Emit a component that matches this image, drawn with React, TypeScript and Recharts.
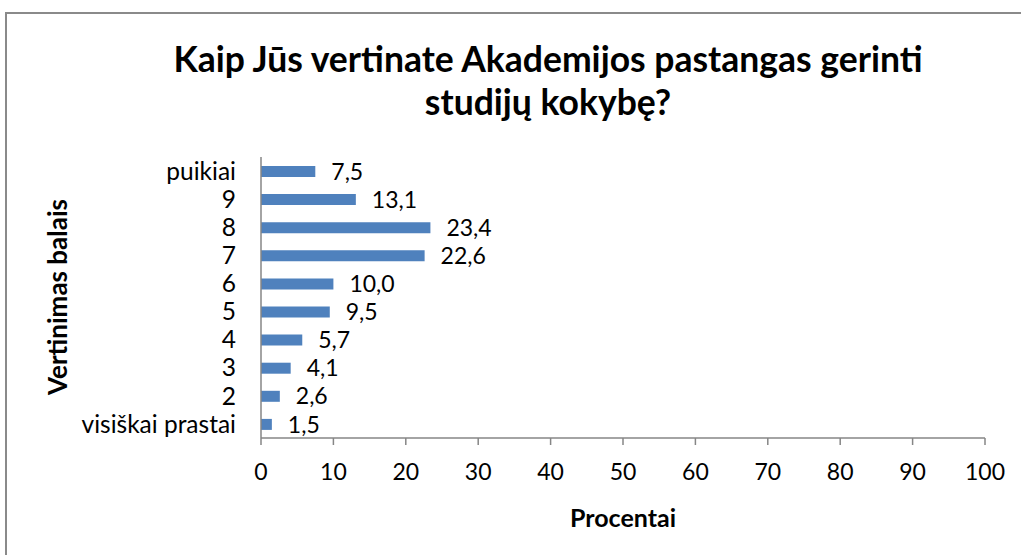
import React from 'react';
import { BarChart, Bar, XAxis, YAxis, LabelList } from 'recharts';

const categories = ['puikiai', '9', '8', '7', '6', '5', '4', '3', '2', 'visiškai prastai'];
const values = [7.5, 13.1, 23.4, 22.6, 10.0, 9.5, 5.7, 4.1, 2.6, 1.5];
const xTicks = [0, 10, 20, 30, 40, 50, 60, 70, 80, 90, 100];

const titleLines = ['Kaip Jūs vertinate Akademijos pastangas gerinti', 'studijų kokybę?'];
const xTitle = 'Procentai';
const yTitle = 'Vertinimas balais';

const data = categories.map((name, i) => ({ name, value: values[i] }));

const FONT = 'Lato, "Noto Sans", sans-serif';
const fmt = (v: any) => Number(v).toFixed(1).replace('.', ',');

export default function App() {
  return (
    <div
      style={{
        position: 'absolute',
        left: 0,
        top: 0,
        width: 1021,
        height: 555,
        overflow: 'hidden',
        background: '#fff',
        fontFamily: FONT,
      }}
    >
      <div
        style={{
          position: 'absolute',
          left: 5,
          top: 12,
          width: 1040,
          height: 570,
          border: '2px solid #8a8a8a',
          boxSizing: 'border-box',
        }}
      />
      <div
        style={{
          position: 'absolute',
          left: 48,
          top: 37,
          width: 1000,
          textAlign: 'center',
          fontWeight: 700,
          fontSize: 35.5,
          lineHeight: '43px',
          color: '#000',
        }}
      >
        {titleLines.map((t) => (
          <div key={t}>{t}</div>
        ))}
      </div>
      <div style={{ position: 'absolute', left: 0, top: 0 }}>
        <BarChart
          width={1021}
          height={555}
          data={data}
          layout="vertical"
          margin={{ top: 157, right: 36, bottom: 116, left: 0 }}
          barSize={11}
        >
          <XAxis
            type="number"
            domain={[0, 100]}
            ticks={xTicks}
            interval={0}
            height={1}
            axisLine={{ stroke: '#868686', strokeWidth: 1.5 }}
            tickLine={{ stroke: '#868686', strokeWidth: 1.5 }}
            tickSize={7}
            tickMargin={19}
            tick={{ fill: '#000', fontSize: 23, fontFamily: FONT }}
          />
          <YAxis
            type="category"
            dataKey="name"
            width={261}
            interval={0}
            axisLine={{ stroke: '#868686', strokeWidth: 1.5 }}
            tickLine={false}
            tickSize={0}
            tickMargin={25}
            tick={{ fill: '#000', fontSize: 24.5, fontFamily: FONT }}
          />
          <Bar dataKey="value" fill="#4F81BD" isAnimationActive={false}>
            <LabelList
              dataKey="value"
              position="right"
              offset={16}
              formatter={fmt}
              style={{ fill: '#000', fontSize: 23, fontFamily: FONT }}
            />
          </Bar>
        </BarChart>
      </div>
      <div
        style={{
          position: 'absolute',
          left: 523,
          top: 503,
          width: 200,
          textAlign: 'center',
          fontWeight: 700,
          fontSize: 25,
          lineHeight: '28px',
          color: '#000',
        }}
      >
        {xTitle}
      </div>
      <div
        style={{
          position: 'absolute',
          left: 57 - 150,
          top: 297 - 14,
          width: 300,
          height: 28,
          textAlign: 'center',
          fontWeight: 700,
          fontSize: 26,
          lineHeight: '28px',
          color: '#000',
          transform: 'rotate(-90deg)',
          transformOrigin: '150px 14px',
        }}
      >
        {yTitle}
      </div>
    </div>
  );
}
